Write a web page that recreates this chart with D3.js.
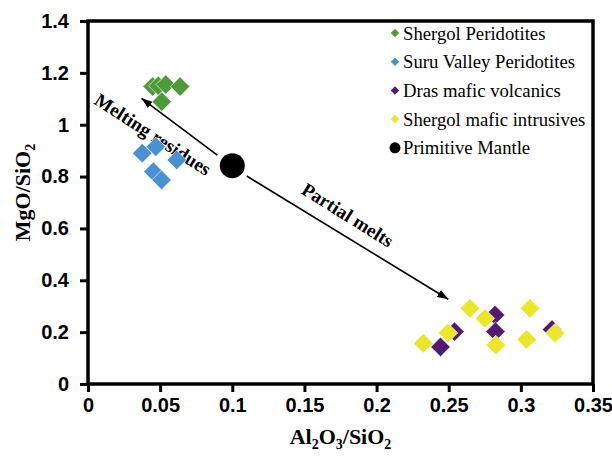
<!DOCTYPE html>
<html>

<head>
    <meta charset="utf-8">
    <style>
        body {
            margin: 0;
            background: #fff;
        }

        svg {
            display: block;
            font-family: 'Liberation Serif', 'Times New Roman', serif;
        }

        .tick text {
            font-weight: bold;
            font-size: 20px;
            fill: #000;
        }

        .axis-title {
            font-weight: bold;
            font-size: 22px;
        }

        .legend text {
            font-size: 18.7px;
        }

        .note {
            font-weight: bold;
            font-size: 19px;
        }
    </style>
</head>

<body>
    <svg width="612" height="459"></svg>

<script src="https://d3js.org/d3.v7.min.js"></script>

<script>
    // values: [Al2O3/SiO2, MgO/SiO2]
    const shergolPeridotites = [[0.0448, 1.147], [0.0487, 1.150], [0.0539, 1.155], [0.0638, 1.147], [0.0511, 1.089]];
    const suruPeridotites = [[0.0376, 0.890], [0.0470, 0.915], [0.0453, 0.819], [0.0510, 0.787], [0.0615, 0.864]];
    const drasVolcanics = [[0.2443, 0.143], [0.2540, 0.202], [0.2821, 0.266], [0.2824, 0.202], [0.3216, 0.210]];
    const shergolIntrusives = [[0.2324, 0.157], [0.2495, 0.197], [0.2647, 0.292], [0.2751, 0.253], [0.2826, 0.150], [0.3040, 0.172], [0.3063, 0.292], [0.3237, 0.196]];
    const primitiveMantle = [[0.1, 0.842]];

    const xTicks = [0, 0.05, 0.1, 0.15, 0.2, 0.25, 0.3, 0.35];
    const yTicks = [0, 0.2, 0.4, 0.6, 0.8, 1, 1.2, 1.4];

    const seriesNames = ["Shergol Peridotites", "Suru Valley Peridotites", "Dras mafic volcanics", "Shergol mafic intrusives", "Primitive Mantle"];
    const seriesColors = ["#4e9a3b", "#4a91d1", "#521b72", "#ece62b", "#000000"];

    // arrows: [from, to] in data units, and their labels
    const arrowEnds = [[[0.0896, 0.883], [0.0371, 1.102]], [[0.110, 0.802], [0.2497, 0.327]]];
    const arrowLabels = ["Melting residues", "Partial melts"];
    const labelAt = [[0.0450, 0.963], [0.1800, 0.652]];
    const labelAngle = [33, 32];

    let margin = { top: 21, right: 19, bottom: 75, left: 88 };
    let width = 612 - margin.left - margin.right;
    let height = 459 - margin.top - margin.bottom;

    let svg = d3.select("svg");

    let defs = svg.append("defs");
    defs.append("marker")
        .attr("id", "head")
        .attr("viewBox", "0 0 11 8")
        .attr("refX", 11)
        .attr("refY", 4)
        .attr("markerWidth", 11)
        .attr("markerHeight", 8)
        .attr("markerUnits", "userSpaceOnUse")
        .attr("orient", "auto")
        .append("path")
        .attr("d", "M0,0L11,4L0,8Z")
        .attr("fill", "#000");

    let g = svg.append("g")
        .attr("transform", `translate(${margin.left},${margin.top})`);

    let x = d3.scaleLinear().domain([0, 0.35]).range([0, width]);
    let y = d3.scaleLinear().domain([0, 1.4]).range([height, 0]);

    // axes
    let xAxis = g.append("g")
        .attr("transform", `translate(0,${height})`)
        .call(d3.axisBottom(x).tickValues(xTicks).tickFormat(d3.format("~g")).tickSizeOuter(0).tickSize(8).tickPadding(6));

    let yAxis = g.append("g")
        .call(d3.axisLeft(y).tickValues(yTicks).tickFormat(d3.format("~g")).tickSizeOuter(0).tickSize(8).tickPadding(11));

    [xAxis, yAxis].forEach(a => {
        a.select(".domain").remove();
        a.selectAll(".tick line").attr("stroke", "#000").attr("stroke-width", 3);
        a.selectAll(".tick text").attr("font-family", null).attr("font-size", null);
    });

    // plot frame
    g.append("rect")
        .attr("width", width)
        .attr("height", height)
        .attr("fill", "none")
        .attr("stroke", "#000")
        .attr("stroke-width", 3.5);

    // axis titles
    let xt = svg.append("text")
        .attr("class", "axis-title")
        .attr("x", margin.left + width / 2)
        .attr("y", 444)
        .attr("text-anchor", "middle");
    xt.append("tspan").text("Al");
    xt.append("tspan").attr("font-size", 14).attr("dy", 5).text("2");
    xt.append("tspan").attr("dy", -5).text("O");
    xt.append("tspan").attr("font-size", 14).attr("dy", 5).text("3");
    xt.append("tspan").attr("dy", -5).text("/SiO");
    xt.append("tspan").attr("font-size", 14).attr("dy", 5).text("2");

    let yt = svg.append("text")
        .attr("class", "axis-title")
        .attr("transform", `translate(30,${margin.top + height / 2 - 10}) rotate(-90)`)
        .attr("text-anchor", "middle");
    yt.append("tspan").text("MgO/SiO");
    yt.append("tspan").attr("font-size", 14).attr("dy", 5).text("2");

    // arrows and labels
    arrowEnds.forEach((a, i) => {
        let [p0, p1] = a;
        g.append("line")
            .attr("x1", x(p0[0])).attr("y1", y(p0[1]))
            .attr("x2", x(p1[0])).attr("y2", y(p1[1]))
            .attr("stroke", "#000")
            .attr("stroke-width", 1.6)
            .attr("marker-end", "url(#head)");

        g.append("text")
            .attr("class", "note")
            .attr("transform", `translate(${x(labelAt[i][0])},${y(labelAt[i][1])}) rotate(${labelAngle[i]})`)
            .attr("text-anchor", "middle")
            .attr("dominant-baseline", "central")
            .text(arrowLabels[i]);
    });

    // scatter points
    let diamond = d3.symbol().type(d3.symbolSquare).size(190);
    let groups = [shergolPeridotites, suruPeridotites, drasVolcanics, shergolIntrusives];

    groups.forEach((pts, i) => {
        g.append("g")
            .selectAll("path")
            .data(pts)
            .join("path")
            .attr("d", diamond)
            .attr("transform", d => `translate(${x(d[0])},${y(d[1])}) rotate(45)`)
            .attr("fill", seriesColors[i])
            .attr("stroke", "#fff")
            .attr("stroke-width", 0.6);
    });

    g.append("g")
        .selectAll("circle")
        .data(primitiveMantle)
        .join("circle")
        .attr("cx", d => x(d[0]))
        .attr("cy", d => y(d[1]))
        .attr("r", 12.5)
        .attr("fill", "#000");

    // legend
    let legend = svg.append("g")
        .attr("class", "legend")
        .attr("transform", "translate(395,33)");

    let rows = legend.selectAll("g")
        .data(seriesNames)
        .join("g")
        .attr("transform", (d, i) => `translate(0,${i * 28.7})`);

    rows.each(function (d, i) {
        let row = d3.select(this);
        if (i < 4) {
            row.append("path")
                .attr("d", d3.symbol().type(d3.symbolSquare).size(36))
                .attr("transform", "rotate(45)")
                .attr("fill", seriesColors[i]);
        } else {
            row.append("circle").attr("r", 5.5).attr("fill", "#000");
        }
        row.append("text")
            .attr("x", 8)
            .attr("dominant-baseline", "central")
            .text(d);
    });
</script>
</body>

</html>
